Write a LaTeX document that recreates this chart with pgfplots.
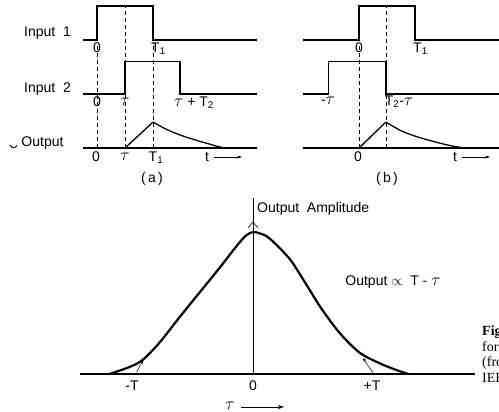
\documentclass[border=0pt]{standalone}
\usepackage{fontspec}
\setmainfont{Liberation Sans}
\newfontfamily\capfont{Liberation Serif}
\usepackage{pgfplots}
\pgfplotsset{compat=1.18}
\usetikzlibrary{arrows.meta}

\pgfplotsset{
  panel/.style={scale only axis, hide axis, clip=false,
    ymin=-0.5, ymax=5.5, height=162pt},
  sig/.style={black, line width=1.3pt, no marks},
  guide/.style={black, line width=0.6pt, dash pattern=on 4pt off 3pt, no marks},
}
\newcommand\lab{\fontsize{14}{16}\selectfont}
\newcommand\tu{{\fontsize{19}{19}\selectfont$\tau$}}

\begin{document}
\begin{tikzpicture}[x=1pt, y=1pt, every node/.style={font=\lab, inner sep=0pt}]
\useasboundingbox (0,0) rectangle (499,412);

% (a): tau = 1, T1 = 2, T2 = 2
\begin{axis}[panel, at={(83pt,250.5pt)}, anchor=south west,
    xmin=-0.5, xmax=5.7, width=173.6pt]
  \addplot[guide] coordinates {(0,0) (0,3.8)};
  \addplot[guide] coordinates {(1,0) (1,5.22)};
  \addplot[guide] coordinates {(2,0) (2,3.9)};
  \addplot[sig] coordinates {(-0.5,4) (0,4) (0,5.26) (2,5.26) (2,4) (5.7,4)};
  \addplot[sig] coordinates {(-0.5,2) (1,2) (1,3.2) (2.96,3.2) (2.96,2) (5.7,2)};
  \addplot[sig] coordinates {(-0.5,0) (5.7,0)};
  \addplot[sig] coordinates {(1,0) (2,0.96)};
  \addplot[sig, smooth] coordinates {(2,0.96) (2.5,0.68) (3,0.47) (3.5,0.3) (4,0.15) (4.3,0.06) (4.55,0)};
\end{axis}

% (b)
\begin{axis}[panel, at={(303pt,250.5pt)}, anchor=south west,
    xmin=-2, xmax=5, width=196pt]
  \addplot[guide] coordinates {(0,0) (0,3.8)};
  \addplot[guide] coordinates {(0.96,0) (0.96,5.22)};
  \addplot[sig] coordinates {(-2,4) (0,4) (0,5.26) (2,5.26) (2,4) (5,4)};
  \addplot[sig] coordinates {(-2,2) (-1.1,2) (-1.1,3.2) (0.96,3.2) (0.96,2) (5,2)};
  \addplot[sig] coordinates {(-2,0) (5,0)};
  \addplot[sig] coordinates {(0,0) (0.96,0.96)};
  \addplot[sig, smooth] coordinates {(0.96,0.96) (1.5,0.64) (2.06,0.42) (2.6,0.26) (3,0.15) (3.4,0.06) (3.75,0)};
\end{axis}

% output amplitude against tau, T = 1
\begin{axis}[scale only axis, hide axis, clip=false,
    at={(80pt,38pt)}, anchor=south west,
    xmin=-1.46, xmax=1.87, ymin=0, ymax=1.24, width=394.6pt, height=176pt]
  \addplot[black, line width=0.6pt, no marks] coordinates {(0,0) (0,1.24)};
  \addplot[black, line width=0.6pt, no marks] coordinates {(-0.042,1.03) (0,1.07) (0.042,1.03)};
  \addplot[black, line width=1.4pt, no marks] coordinates {(-1.46,0) (1.87,0)};
  \addplot[black, line width=2.2pt, no marks, smooth] coordinates {
    (-1.21,0) (-1.04,0.05) (-0.93,0.10) (-0.79,0.22) (-0.62,0.40) (-0.45,0.575)
    (-0.28,0.75) (-0.14,0.90) (-0.06,0.975) (0,1) (0.06,0.99) (0.14,0.955)
    (0.31,0.81) (0.45,0.63) (0.57,0.47) (0.73,0.29) (0.90,0.15) (1.07,0.075)
    (1.21,0.028) (1.31,0)};
  \addplot[black, line width=0.5pt, no marks, -{Stealth[length=4pt,width=3pt]}]
    coordinates {(-0.982,0.016) (-0.926,0.099)};
  \addplot[black, line width=0.5pt, no marks, -{Stealth[length=4pt,width=3pt]}]
    coordinates {(1.013,0.007) (0.928,0.113)};
\end{axis}

% row names
\node at (47.5,379) {Input\ \ 1};
\node at (47.5,323) {Input\ \ 2};
\node at (42.5,269) {Output};
\draw[line width=1pt] (10,267) .. controls (12,263.5) and (15,263.5) .. (17,266.5);

% labels (a)
\node at (97,364) {0};
\node[anchor=west] at (151,363) {T\textsubscript{1}};
\node at (97,310) {0};
\node at (125,310) {\tu};
\node at (194,309) {\tu\ + T\textsubscript{2}};
\node at (96,255) {0};
\node at (125,255) {\tu};
\node at (156,254) {T\textsubscript{1}};
\node at (207,255) {t};
\draw[line width=0.6pt, -{Stealth[length=5pt,width=3pt]}] (214,255) -- (242,255);
\node at (152,233) {(\,a\,)};

% labels (b)
\node at (328,311) {-\tu};
\node at (359,364) {0};
\node[anchor=west] at (413,363) {T\textsubscript{1}};
\node at (399,310) {T\textsubscript{2}-\tu};
\node at (358,255) {0};
\node at (455,255) {t};
\draw[line width=0.6pt, -{Stealth[length=5pt,width=3pt]}] (462,255) -- (490,255);
\node at (387,233) {(\,b\,)};

% labels, lower chart
\node[anchor=west] at (257,203) {Output\ \ Amplitude};
\node at (393,130) {Output\ $\propto$\ \ T - \tu};
\node at (132,26) {-T};
\node at (253,26) {0};
\node at (372,26) {+T};
\node at (230,6) {\tu};
\draw[line width=0.6pt, -{Stealth[length=6pt,width=4pt]}] (241,5) -- (284,5);

% caption, cut by the page edge as in the scan
\begin{scope}[every node/.style={font=\capfont\fontsize{14}{16}\selectfont, inner sep=0pt, anchor=west}]
  \node at (482,80) {\textbf{Fig. 4.}};
  \node at (482,65) {for};
  \node at (482,49) {(from};
  \node at (482,34) {IEEE};
\end{scope}
\end{tikzpicture}
\end{document}
